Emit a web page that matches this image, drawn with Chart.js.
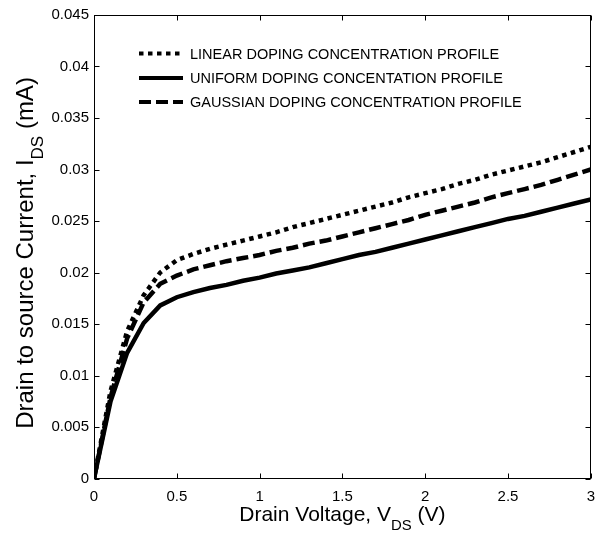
<!DOCTYPE html>
<html>
<head>
<meta charset="utf-8">
<script src="https://cdn.jsdelivr.net/npm/chart.js@4.4.0/dist/chart.umd.min.js"></script>
<style>
  html, body { margin: 0; padding: 0; background: #fff; }
  #wrap { width: 604px; height: 542px; }
</style>
</head>
<body>
<div id="wrap"><canvas id="ivChart" width="604" height="542"></canvas></div>
<script>
// Drain voltage sweep (V)
const vds = [0, 0.1, 0.2, 0.3, 0.4, 0.5, 0.6, 0.7, 0.8, 0.9, 1.0, 1.1, 1.2, 1.3, 1.4, 1.5,
  1.6, 1.7, 1.8, 1.9, 2.0, 2.1, 2.2, 2.3, 2.4, 2.5, 2.6, 2.7, 2.8, 2.9, 3.0];

// Drain current (mA)
const linearProfile = [0, 0.0085, 0.0143, 0.0178, 0.0200, 0.0212, 0.0218, 0.0223, 0.0227, 0.0231,
  0.0235, 0.0239, 0.0244, 0.0248, 0.0252, 0.0256, 0.0260, 0.0264, 0.0268, 0.0273,
  0.0277, 0.0281, 0.0286, 0.0290, 0.0295, 0.0299, 0.0303, 0.0307, 0.0312, 0.0317, 0.0322];
const uniformProfile = [0, 0.0075, 0.0122, 0.0151, 0.0168, 0.0176, 0.0181, 0.0185, 0.0188, 0.0192,
  0.0195, 0.0199, 0.0202, 0.0205, 0.0209, 0.0213, 0.0217, 0.0220, 0.0224, 0.0228,
  0.0232, 0.0236, 0.0240, 0.0244, 0.0248, 0.0252, 0.0255, 0.0259, 0.0263, 0.0267, 0.0271];
const gaussianProfile = [0, 0.0079, 0.0136, 0.0171, 0.0189, 0.0197, 0.0203, 0.0207, 0.0211, 0.0214,
  0.0217, 0.0221, 0.0224, 0.0228, 0.0231, 0.0235, 0.0239, 0.0243, 0.0247, 0.0251,
  0.0256, 0.0260, 0.0264, 0.0268, 0.0273, 0.0277, 0.0281, 0.0285, 0.0290, 0.0295, 0.0300];

const seriesLabels = [
  "LINEAR DOPING CONCENTRATION PROFILE",
  "UNIFORM DOPING CONCENTATION PROFILE",
  "GAUSSIAN DOPING CONCENTRATION PROFILE",
];

const xTickValues = [0, 0.5, 1, 1.5, 2, 2.5, 3];
const xTickLabels = ["0", "0.5", "1", "1.5", "2", "2.5", "3"];
const yTickValues = [0, 0.005, 0.01, 0.015, 0.02, 0.025, 0.03, 0.035, 0.04, 0.045];
const yTickLabels = ["0", "0.005", "0.01", "0.015", "0.02", "0.025", "0.03", "0.035", "0.04", "0.045"];

const FONT = "'Liberation Sans', Arial, Helvetica, sans-serif";

function toPoints(values) {
  return vds.map((v, i) => ({ x: v, y: values[i] }));
}

// text with an inline subscript part, centred on (x, y) baseline
function drawSubText(ctx, parts, x, y, size) {
  const subSize = size * 0.71;
  let total = 0;
  parts.forEach((p) => {
    ctx.font = `${p.sub ? subSize : size}px ${FONT}`;
    total += ctx.measureText(p.t).width;
  });
  let cx = x - total / 2;
  ctx.textAlign = "left";
  ctx.textBaseline = "alphabetic";
  parts.forEach((p) => {
    ctx.font = `${p.sub ? subSize : size}px ${FONT}`;
    ctx.fillText(p.t, cx, p.sub ? y + size * 0.43 : y);
    cx += ctx.measureText(p.t).width;
  });
}

// MATLAB-like frame: box, inward ticks, legend and axis titles
const matlabFrame = {
  id: "matlabFrame",
  afterDraw(chart) {
    const { ctx, chartArea: a, scales } = chart;
    ctx.save();
    ctx.strokeStyle = "#000";
    ctx.lineWidth = 1;
    const L = Math.round(a.left) + 0.5, R = Math.round(a.right) - 0.5;
    const T = Math.round(a.top) + 0.5, B = Math.round(a.bottom) - 0.5;
    ctx.strokeRect(L, T, R - L, B - T);

    const tl = 5;
    ctx.beginPath();
    xTickValues.forEach((v) => {
      const px = Math.round(scales.x.getPixelForValue(v)) + 0.5;
      ctx.moveTo(px, B); ctx.lineTo(px, B - tl);
      ctx.moveTo(px, T); ctx.lineTo(px, T + tl);
    });
    yTickValues.forEach((v) => {
      const py = Math.round(scales.y.getPixelForValue(v)) + 0.5;
      ctx.moveTo(L, py); ctx.lineTo(L + tl, py);
      ctx.moveTo(R, py); ctx.lineTo(R - tl, py);
    });
    ctx.stroke();

    // legend
    const rows = [53.5, 78, 102];
    chart.data.datasets.forEach((ds, i) => {
      const y = rows[i];
      ctx.beginPath();
      ctx.lineWidth = 4;
      ctx.lineCap = "butt";
      ctx.setLineDash(ds.borderDash || []);
      ctx.moveTo(139, y);
      ctx.lineTo(183, y);
      ctx.stroke();
      ctx.setLineDash([]);
      ctx.fillStyle = "#000";
      ctx.font = `14.5px ${FONT}`;
      ctx.textAlign = "left";
      ctx.textBaseline = "middle";
      ctx.fillText(ds.label, 190, y + 1);
    });

    // axis titles
    ctx.fillStyle = "#000";
    drawSubText(ctx, [{ t: "Drain Voltage, V" }, { t: "DS", sub: true }, { t: " (V)" }],
      (a.left + a.right) / 2, 521, 21);

    ctx.translate(33, 253);
    ctx.rotate(-Math.PI / 2);
    drawSubText(ctx, [{ t: "Drain to source Current, I" }, { t: "DS", sub: true }, { t: " (mA)" }],
      0, 0, 24);
    ctx.restore();
  },
};

function makeDataset(label, values, dash) {
  return {
    label: label,
    data: toPoints(values),
    borderColor: "#000",
    backgroundColor: "#000",
    borderWidth: 4.5,
    borderDash: dash,
    borderCapStyle: "butt",
    pointRadius: 0,
    tension: 0,
    fill: false,
  };
}

document.addEventListener("DOMContentLoaded", () => {
  const ctx = document.getElementById("ivChart").getContext("2d");
  new Chart(ctx, {
    type: "line",
    data: {
      datasets: [
        makeDataset(seriesLabels[0], linearProfile, [4.5, 4.5]),
        makeDataset(seriesLabels[1], uniformProfile, []),
        makeDataset(seriesLabels[2], gaussianProfile, [12, 5]),
      ],
    },
    options: {
      responsive: false,
      animation: false,
      devicePixelRatio: 1,
      layout: { padding: { top: 15, right: 11, left: 0, bottom: 0 } },
      plugins: {
        legend: { display: false },
        tooltip: { enabled: false },
      },
      scales: {
        x: {
          type: "linear",
          min: 0,
          max: 3,
          grid: { display: false, drawTicks: false },
          border: { display: false },
          afterBuildTicks: (scale) => {
            scale.ticks = xTickValues.map((v) => ({ value: v }));
          },
          afterFit: (scale) => { scale.height = 63.5; },
          ticks: {
            autoSkip: false,
            maxRotation: 0,
            padding: 9,
            color: "#000",
            font: { family: FONT, size: 15 },
            callback: (value, index) => xTickLabels[index],
          },
        },
        y: {
          type: "linear",
          min: 0,
          max: 0.045,
          grid: { display: false, drawTicks: false },
          border: { display: false },
          afterBuildTicks: (scale) => {
            scale.ticks = yTickValues.map((v) => ({ value: v }));
          },
          afterFit: (scale) => { scale.width = 94; },
          ticks: {
            autoSkip: false,
            padding: 5,
            color: "#000",
            font: { family: FONT, size: 15 },
            callback: (value, index) => yTickLabels[index],
          },
        },
      },
    },
    plugins: [matlabFrame],
  });
});
</script>
</body>
</html>
